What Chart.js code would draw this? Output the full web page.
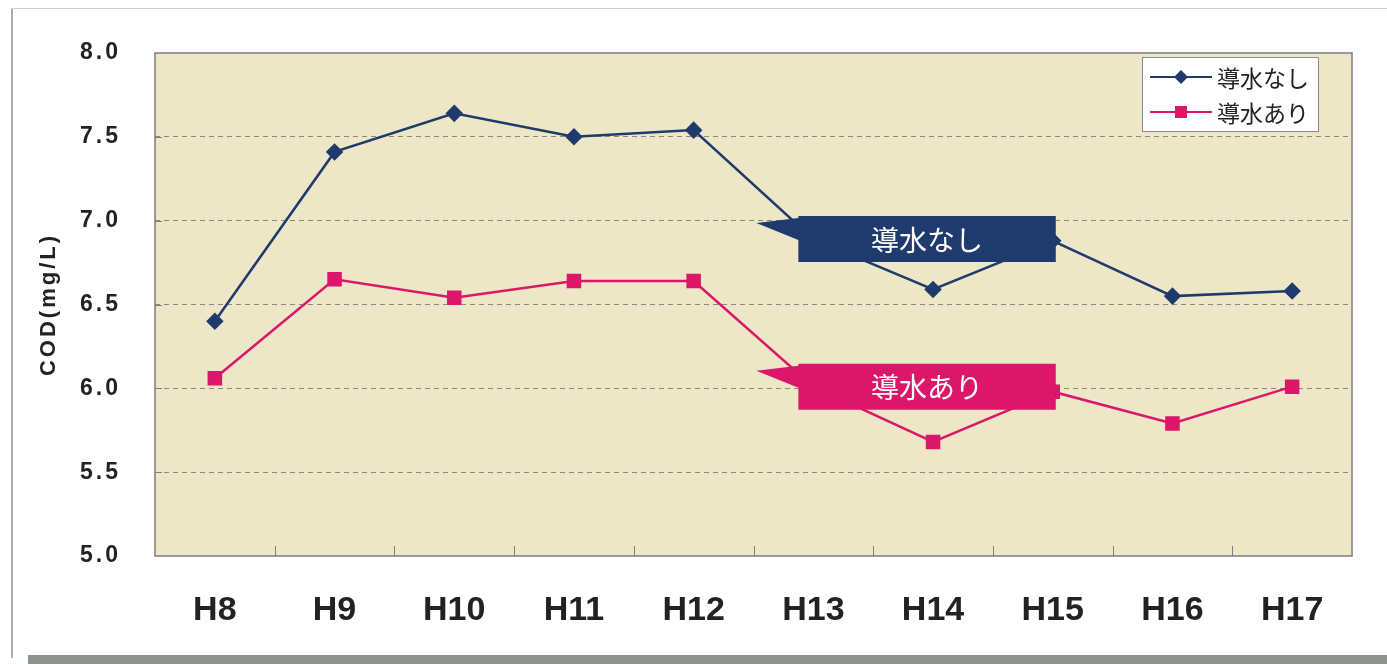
<!DOCTYPE html>
<html lang="ja">
<head>
<meta charset="utf-8">
<script src="https://cdn.jsdelivr.net/npm/chart.js@4.4.0/dist/chart.umd.min.js"></script>
<style>
html, body { margin: 0; padding: 0; background: #fff; }
#wrap { position: relative; width: 1387px; height: 664px; overflow: hidden; }
#wrap canvas { position: absolute; left: 0; top: 0; }
.edge { position: absolute; }
#edgeL { left: 11px; top: 8px; width: 2px; height: 650px; background: #a9aca9; }
#edgeT { left: 11px; top: 8px; width: 1376px; height: 1px; background: #cfcfcf; }
#edgeB { left: 28px; top: 655px; width: 1359px; height: 9px; background: #8e928e; }
</style>
</head>
<body>
<div id="wrap">
  <canvas id="grafico" width="1387" height="664"></canvas>
  <div class="edge" id="edgeL"></div>
  <div class="edge" id="edgeT"></div>
  <div class="edge" id="edgeB"></div>
</div>
<script>
// datos
const years = ['H8', 'H9', 'H10', 'H11', 'H12', 'H13', 'H14', 'H15', 'H16', 'H17'];
const codNashi = [6.40, 7.41, 7.64, 7.50, 7.54, 6.89, 6.59, 6.88, 6.55, 6.58];
const codAri = [6.06, 6.65, 6.54, 6.64, 6.64, 6.01, 5.68, 5.98, 5.79, 6.01];
const seriesNames = ['導水なし', '導水あり'];
const yTicks = [5.0, 5.5, 6.0, 6.5, 7.0, 7.5, 8.0];

const navy = '#1f3a6c';
const magenta = '#dc1669';
const fondo = '#ede7c8';
const jpFont = '"Noto Sans CJK JP", "Noto Sans", sans-serif';

// fondo del área, marco, marcas, leyenda y globos
const decor = {
    id: 'decor',
    beforeDraw(chart) {
        const { ctx, chartArea: a } = chart;
        ctx.save();
        ctx.fillStyle = fondo;
        ctx.fillRect(a.left, a.top, a.right - a.left, a.bottom - a.top);
        ctx.restore();
        ctx.letterSpacing = '3px'; // solo eje Y
    },
    beforeDatasetsDraw(chart) {
        const { ctx, chartArea: a } = chart;
        const xs = chart.scales.x, ys = chart.scales.y;
        ctx.letterSpacing = '0px';
        ctx.save();
        ctx.strokeStyle = '#7c7c7c';
        ctx.lineWidth = 1.5;
        ctx.strokeRect(a.left, a.top, a.right - a.left, a.bottom - a.top);
        ctx.lineWidth = 1;
        ctx.beginPath();
        const half = (xs.getPixelForValue(1) - xs.getPixelForValue(0)) / 2;
        for (let i = 0; i < years.length - 1; i++) {
            const x = Math.round(xs.getPixelForValue(i) + half) + 0.5;
            ctx.moveTo(x, a.bottom);
            ctx.lineTo(x, a.bottom - 10);
        }
        yTicks.slice(1, -1).forEach(v => {
            const y = Math.round(ys.getPixelForValue(v)) + 0.5;
            ctx.moveTo(a.left, y);
            ctx.lineTo(a.left + 7, y);
        });
        ctx.stroke();
        ctx.restore();
    },
    afterDatasetsDraw(chart) {
        const { ctx, chartArea: a } = chart;
        const xs = chart.scales.x, ys = chart.scales.y;
        const i13 = years.indexOf('H13'), i15 = years.indexOf('H15');

        // globos
        const callout = (vals, color, text) => {
            const cy = ys.getPixelForValue(vals[i13]);
            const left = xs.getPixelForValue(i13) - 15;
            const right = xs.getPixelForValue(i15) + 3;
            const h = 46;
            ctx.save();
            ctx.fillStyle = color;
            ctx.beginPath();
            ctx.moveTo(left, cy - h / 2);
            ctx.lineTo(right, cy - h / 2);
            ctx.lineTo(right, cy + h / 2);
            ctx.lineTo(left, cy + h / 2);
            ctx.lineTo(left, cy + 1);
            ctx.lineTo(left - 42, cy - 16);
            ctx.lineTo(left, cy - h / 2 + 2);
            ctx.closePath();
            ctx.fill();
            ctx.fillStyle = '#ffffff';
            ctx.font = '28px ' + jpFont;
            ctx.textAlign = 'center';
            ctx.textBaseline = 'middle';
            ctx.fillText(text, (left + right) / 2, cy + 1);
            ctx.restore();
        };
        callout(codNashi, navy, seriesNames[0]);
        callout(codAri, magenta, seriesNames[1]);

        // leyenda
        const lw = 176, lh = 74;
        const lx = a.right - 34 - lw, ly = a.top + 4;
        ctx.save();
        ctx.fillStyle = '#ffffff';
        ctx.fillRect(lx, ly, lw, lh);
        ctx.strokeStyle = '#8c8c8c';
        ctx.lineWidth = 1;
        ctx.strokeRect(lx + 0.5, ly + 0.5, lw, lh);
        const items = [
            { name: seriesNames[0], color: navy, shape: 'diamond' },
            { name: seriesNames[1], color: magenta, shape: 'square' }
        ];
        items.forEach((it, k) => {
            const y = ly + 20 + k * 35;
            ctx.strokeStyle = it.color;
            ctx.lineWidth = 2;
            ctx.beginPath();
            ctx.moveTo(lx + 8, y);
            ctx.lineTo(lx + 70, y);
            ctx.stroke();
            ctx.fillStyle = it.color;
            const cx = lx + 39;
            if (it.shape === 'diamond') {
                ctx.beginPath();
                ctx.moveTo(cx, y - 7);
                ctx.lineTo(cx + 7, y);
                ctx.lineTo(cx, y + 7);
                ctx.lineTo(cx - 7, y);
                ctx.closePath();
                ctx.fill();
            } else {
                ctx.fillRect(cx - 6, y - 6, 12, 12);
            }
            ctx.fillStyle = '#222222';
            ctx.font = '23px ' + jpFont;
            ctx.textAlign = 'left';
            ctx.textBaseline = 'middle';
            ctx.fillText(it.name, lx + 75, y + 1);
        });
        ctx.restore();
    }
};

new Chart(document.getElementById('grafico').getContext('2d'), {
    type: 'line',
    data: {
        labels: years,
        datasets: [{
            label: seriesNames[0],
            data: codNashi,
            borderColor: navy,
            backgroundColor: navy,
            borderWidth: 2.5,
            pointStyle: 'rectRot',
            pointRadius: 7,
            pointHoverRadius: 7,
            tension: 0
        }, {
            label: seriesNames[1],
            data: codAri,
            borderColor: magenta,
            backgroundColor: magenta,
            borderWidth: 2.5,
            pointStyle: 'rect',
            pointRadius: 8.5,
            pointHoverRadius: 8.5,
            tension: 0
        }]
    },
    options: {
        responsive: false,
        animation: false,
        layout: { padding: { left: 0, top: 53, right: 35, bottom: 0 } },
        plugins: {
            legend: { display: false },
            tooltip: { enabled: false }
        },
        scales: {
            x: {
                offset: true,
                afterFit: (s) => { s.height = 108; },
                grid: { display: false, drawTicks: false },
                border: { display: false },
                ticks: {
                    z: 1, // se dibuja después de las series, sin espaciado
                    color: '#222',
                    padding: 34,
                    font: { family: 'Liberation Sans', weight: 'bold', size: 34 }
                }
            },
            y: {
                min: 5,
                max: 8,
                afterFit: (s) => { s.width = 155; },
                afterBuildTicks: (s) => { s.ticks = yTicks.map(v => ({ value: v })); },
                grid: {
                    drawTicks: false,
                    lineWidth: 1,
                    color: (c) => (c.tick && (c.tick.value === 5 || c.tick.value === 8)) ? 'rgba(0,0,0,0)' : '#8a8a80'
                },
                border: { display: false, dash: [5, 4] },
                ticks: {
                    color: '#222',
                    padding: 34,
                    font: { family: 'Liberation Sans', weight: 'bold', size: 23 },
                    callback: (v) => Number(v).toFixed(1)
                },
                title: {
                    display: true,
                    text: 'COD(mg/L)',
                    color: '#222',
                    padding: { top: 36, bottom: 0 },
                    font: { family: 'Liberation Sans', weight: 'bold', size: 22 }
                }
            }
        }
    },
    plugins: [decor]
});
</script>
</body>
</html>
